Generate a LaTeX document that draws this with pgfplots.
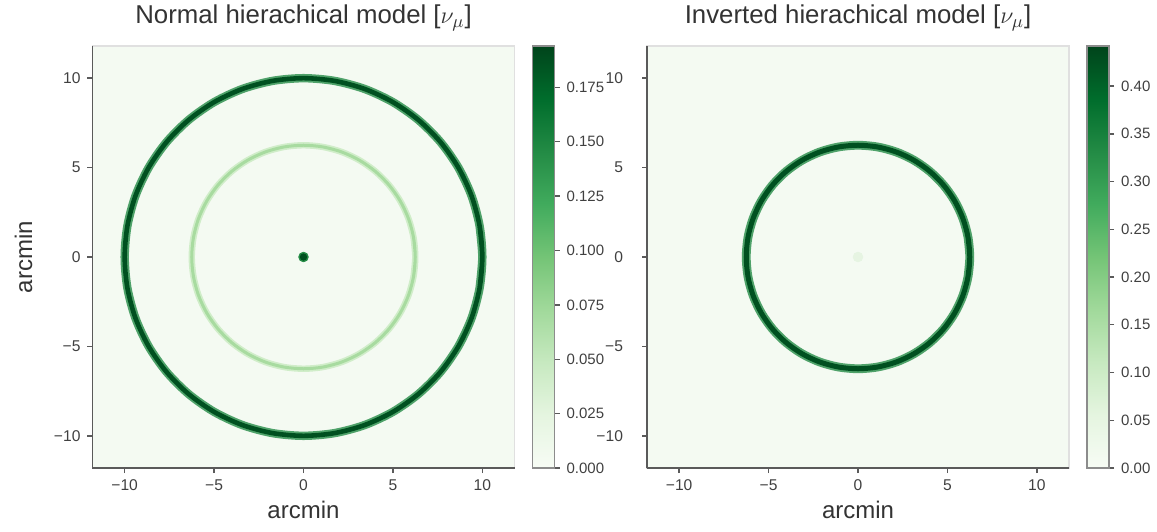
\documentclass[border=0pt]{standalone}
\usepackage{pgfplots}
\pgfplotsset{compat=1.18}
\usepackage{fontspec}
\setmainfont{Liberation Sans}
\definecolor{gbg}{RGB}{244,250,242}
\definecolor{gdark}{RGB}{0,80,32}
\definecolor{gmid}{RGB}{35,139,69}
\definecolor{glight}{RGB}{168,219,160}
\definecolor{glight2}{RGB}{208,237,201}
\definecolor{gfaint}{RGB}{230,244,226}
\definecolor{spine}{RGB}{90,90,90}

\pgfplotstableread{
x y
9.848 -1.736
10 0
9.848 1.736
9.397 3.420
8.660 5.000
7.660 6.428
6.428 7.660
5.000 8.660
3.420 9.397
1.736 9.848
0 10
-1.736 9.848
-3.420 9.397
-5.000 8.660
-6.428 7.660
-7.660 6.428
-8.660 5.000
-9.397 3.420
-9.848 1.736
-10 0
-9.848 -1.736
-9.397 -3.420
-8.660 -5.000
-7.660 -6.428
-6.428 -7.660
-5.000 -8.660
-3.420 -9.397
-1.736 -9.848
0 -10
1.736 -9.848
3.420 -9.397
5.000 -8.660
6.428 -7.660
7.660 -6.428
8.660 -5.000
9.397 -3.420
9.848 -1.736
10 0
9.848 1.736
}\ringten

\pgfplotstableread{
x y
6.155 -1.085
6.250 0
6.155 1.085
5.873 2.138
5.413 3.125
4.788 4.017
4.017 4.788
3.125 5.413
2.138 5.873
1.085 6.155
0 6.250
-1.085 6.155
-2.138 5.873
-3.125 5.413
-4.017 4.788
-4.788 4.017
-5.413 3.125
-5.873 2.138
-6.155 1.085
-6.250 0
-6.155 -1.085
-5.873 -2.138
-5.413 -3.125
-4.788 -4.017
-4.017 -4.788
-3.125 -5.413
-2.138 -5.873
-1.085 -6.155
0 -6.250
1.085 -6.155
2.138 -5.873
3.125 -5.413
4.017 -4.788
4.788 -4.017
5.413 -3.125
5.873 -2.138
6.155 -1.085
6.250 0
6.155 1.085
}\ringsix

\pgfplotsset{
  colormap={Greens}{rgb255(0)=(247,252,245) rgb255(1)=(229,245,224) rgb255(2)=(199,233,192) rgb255(3)=(161,217,155) rgb255(4)=(116,196,118) rgb255(5)=(65,171,93) rgb255(6)=(35,139,69) rgb255(7)=(0,109,44) rgb255(8)=(0,68,27)},
  ringax/.style={
    scale only axis, width=211pt, height=211pt,
    xmin=-11.8, xmax=11.8, ymin=-11.8, ymax=11.8,
    axis x line*=bottom, axis y line*=left,
    axis line style={spine, line width=0.9pt},
    axis background/.style={fill=gbg, draw=black!12, line width=0.8pt},
    xtick={-10,-5,0,5,10}, ytick={-10,-5,0,5,10},
    xticklabels={−10,−5,0,5,10}, yticklabels={−10,−5,0,5,10},
    tick style={spine, line width=0.7pt},
    tick align=outside, major tick length=2.5pt,
    ticklabel style={font=\fontsize{7.8}{9}\selectfont, text=black!75},
    label style={font=\fontsize{12}{14}\selectfont, text=black!80},
    title style={font=\fontsize{12.9}{15}\selectfont, text=black!80, yshift=-2pt},
    xlabel={arcmin},
    xlabel style={yshift=2pt},
    colorbar,
    colorbar style={
      at={(parent axis.north east)}, anchor=north west, xshift=0.5pt,
      scale only axis, width=11pt, height=211pt,
      axis line style={draw=black!45, line width=0.7pt},
      ytick pos=right, yticklabel pos=right,
      tick align=outside, major tick length=2.5pt,
      tick style={spine, line width=0.7pt},
      scaled y ticks=false,
      yticklabel style={font=\fontsize{7.5}{9}\selectfont, text=black!75,
        /pgf/number format/assume math mode=true},
    },
  },
}

\begin{document}
\begin{tikzpicture}
\path[use as bounding box] (-46.25pt,-31.5pt) rectangle (532.25pt,234pt);
\begin{axis}[ringax, at={(0,0)}, anchor=south west,
  title={Normal hierachical model [$\nu_\mu$]},
  ylabel={arcmin}, ylabel style={yshift=4pt},
  point meta min=0, point meta max=0.194,
  colorbar style={ytick={0,0.025,0.05,0.075,0.1,0.125,0.15,0.175},
    yticklabel style={/pgf/number format/.cd, fixed, fixed zerofill, precision=3}},
]
\addplot[glight2, line width=3.2pt, smooth] table {\ringsix};
\addplot[glight, line width=1.5pt, smooth] table {\ringsix};
\addplot[gmid!80, line width=4.2pt, smooth] table {\ringten};
\addplot[gdark, line width=2.3pt, smooth] table {\ringten};
\addplot[only marks, mark=*, color=gmid, mark size=2.4pt] coordinates {(0,0)};
\addplot[only marks, mark=*, color=gdark, mark size=1.6pt] coordinates {(0,0)};
\end{axis}
\begin{axis}[ringax, at={(277.25pt,0)}, anchor=south west,
  title={Inverted hierachical model [$\nu_\mu$]},
  yticklabel style={xshift=-6pt},
  point meta min=0, point meta max=0.442,
  colorbar style={ytick={0,0.05,0.1,0.15,0.2,0.25,0.3,0.35,0.4},
    yticklabel style={/pgf/number format/.cd, fixed, fixed zerofill, precision=2}},
]
\addplot[gmid!80, line width=4.4pt, smooth] table {\ringsix};
\addplot[gdark, line width=2.5pt, smooth] table {\ringsix};
\addplot[only marks, mark=*, color=gfaint, mark size=2.4pt] coordinates {(0,0)};
\end{axis}
\end{tikzpicture}
\end{document}
